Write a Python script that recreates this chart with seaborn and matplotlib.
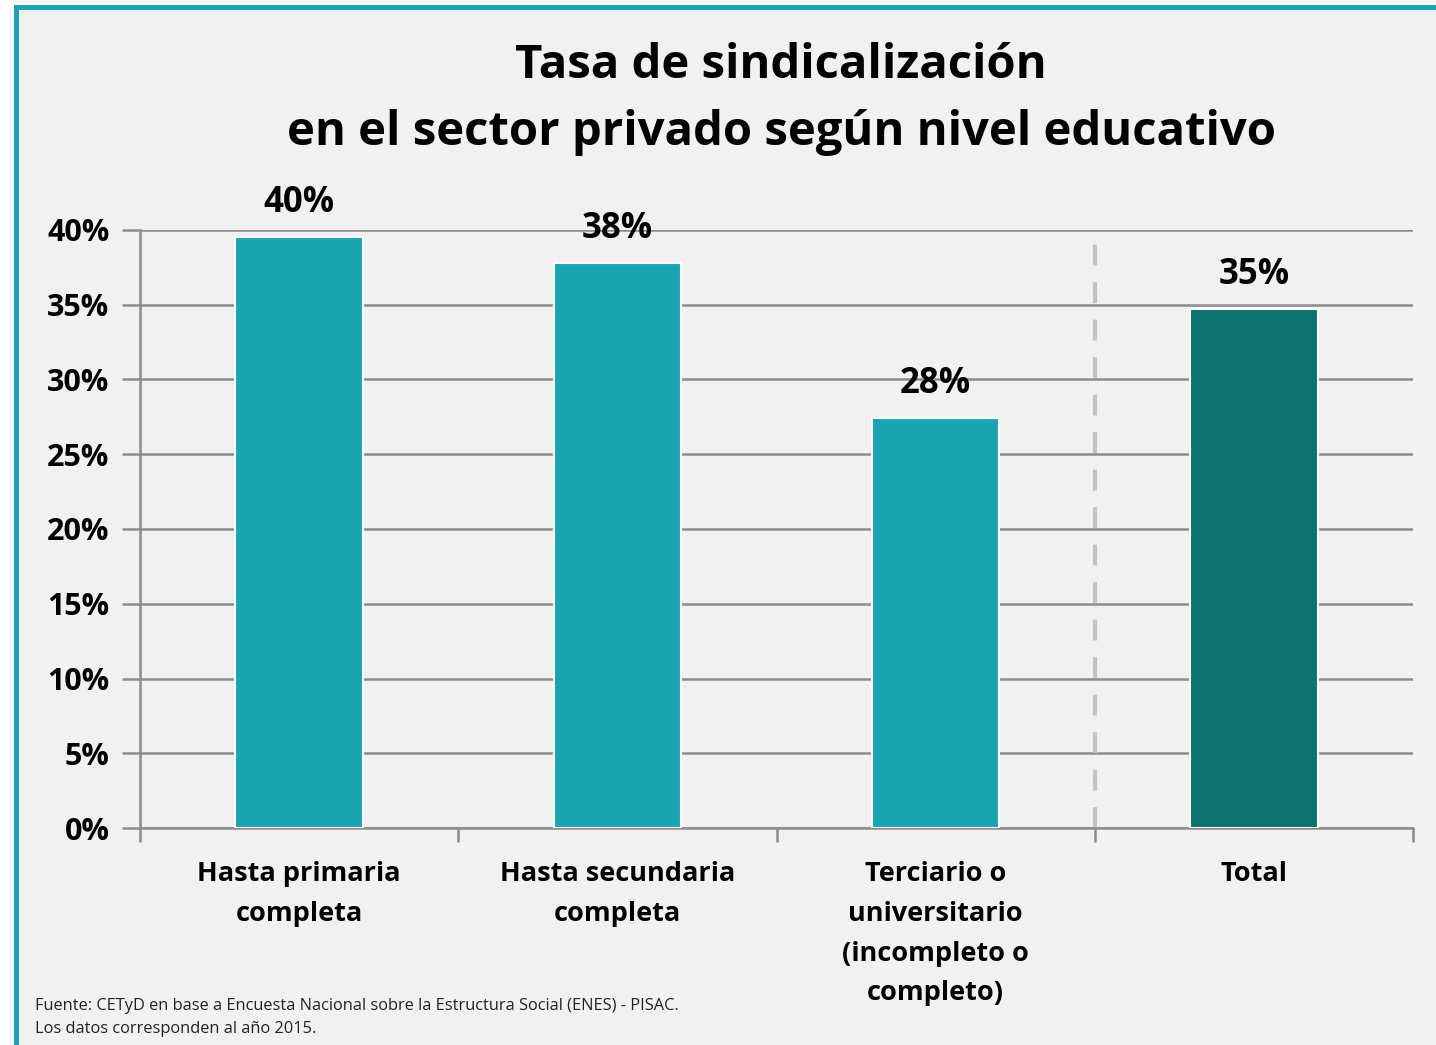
import seaborn as sns
import matplotlib.pyplot as plt
import matplotlib.patches as mpatches
import pandas as pd

# data
categorias = ["Hasta primaria\ncompleta", "Hasta secundaria\ncompleta",
              "Terciario o\nuniversitario\n(incompleto o\ncompleto)", "Total"]
tasas = [39.5, 37.8, 27.4, 34.7]
etiquetas = ["40%", "38%", "28%", "35%"]
colores = ["#1ba5b2", "#1ba5b2", "#1ba5b2", "#0f7170"]
yticks = [0, 5, 10, 15, 20, 25, 30, 35, 40]

df = pd.DataFrame({"categoria": categorias, "tasa": tasas})

sns.set_style("white")
plt.rcParams["font.family"] = ["Open Sans", "DejaVu Sans"]
plt.rcParams["text.color"] = "black"
plt.rcParams["xtick.color"] = "black"
plt.rcParams["ytick.color"] = "black"

fig = plt.figure(figsize=(14.36, 10.45), dpi=100, facecolor="white")
# panel background + teal border
fig.patches.append(mpatches.Rectangle((14 / 1436, 0), 1 - 14 / 1436, 1 - 10 / 1045,
                                      transform=fig.transFigure, facecolor="#f1f1f1",
                                      edgecolor="none", zorder=-3))
fig.patches.append(mpatches.Rectangle((14 / 1436, 0), 5 / 1436, 1 - 5 / 1045,
                                      transform=fig.transFigure, facecolor="#1ba5b2",
                                      edgecolor="none", zorder=-2))
fig.patches.append(mpatches.Rectangle((14 / 1436, 1 - 10 / 1045), 1 - 14 / 1436, 5 / 1045,
                                      transform=fig.transFigure, facecolor="#1ba5b2",
                                      edgecolor="none", zorder=-2))

ax = fig.add_axes([140 / 1436, 1 - 828 / 1045, (1413 - 140) / 1436, (828 - 230) / 1045])
ax.set_facecolor("none")

sns.barplot(data=df, x="categoria", y="tasa", hue="categoria", palette=colores,
            saturation=1, legend=False, width=0.40, edgecolor="white", linewidth=1.5,
            ax=ax, zorder=3)

ax.set_ylim(0, 40)
ax.set_xlim(-0.5, 3.5)
ax.set_yticks(yticks)
ax.set_yticklabels([f"{t}%" for t in yticks], fontsize=22, fontweight="bold")
ax.yaxis.grid(True, color="#8c8c8c", linewidth=1.8, zorder=0)
ax.set_axisbelow(True)
ax.tick_params(axis="y", left=True, length=13, width=1.8, color="#8c8c8c",
               labelcolor="black", pad=9)

# categories at centers, tick marks at boundaries
ax.set_xticks(range(len(categorias)))
ax.set_xticklabels(categorias, fontsize=19.5, fontweight="bold", linespacing=1.68)
ax.tick_params(axis="x", length=0, pad=24, labelcolor="black")
ax.set_xticks([-0.5, 0.5, 1.5, 2.5, 3.5], minor=True)
ax.tick_params(axis="x", which="minor", bottom=True, length=10, width=1.8,
               color="#8c8c8c", direction="out")

for s in ["top", "right"]:
    ax.spines[s].set_visible(False)
for s in ["left", "bottom"]:
    ax.spines[s].set_color("#8c8c8c")
    ax.spines[s].set_linewidth(1.8)

ax.axvline(2.5, color="#c3c3c3", linestyle=(0, (5, 4)), linewidth=3, zorder=2)

ax.set_xlabel("")
ax.set_ylabel("")

for i, (v, lab) in enumerate(zip(tasas, etiquetas)):
    ax.text(i, v + 2.3, lab, ha="center", va="center", fontsize=25, fontweight="bold")

fig.text(0.544, 1 - 65 / 1045, "Tasa de sindicalización", ha="center", va="center",
         fontsize=34, fontweight="bold")
fig.text(0.544, 1 - 133 / 1045, "en el sector privado según nivel educativo", ha="center",
         va="center", fontsize=34, fontweight="bold")

fig.text(35 / 1436, 1 - 1006 / 1045,
         "Fuente: CETyD en base a Encuesta Nacional sobre la Estructura Social (ENES) - PISAC.",
         ha="left", va="center", fontsize=11.8, color="#222222")
fig.text(35 / 1436, 1 - 1029 / 1045, "Los datos corresponden al año 2015.",
         ha="left", va="center", fontsize=11.8, color="#222222")

plt.savefig("out.png", dpi=100, facecolor=fig.get_facecolor())
